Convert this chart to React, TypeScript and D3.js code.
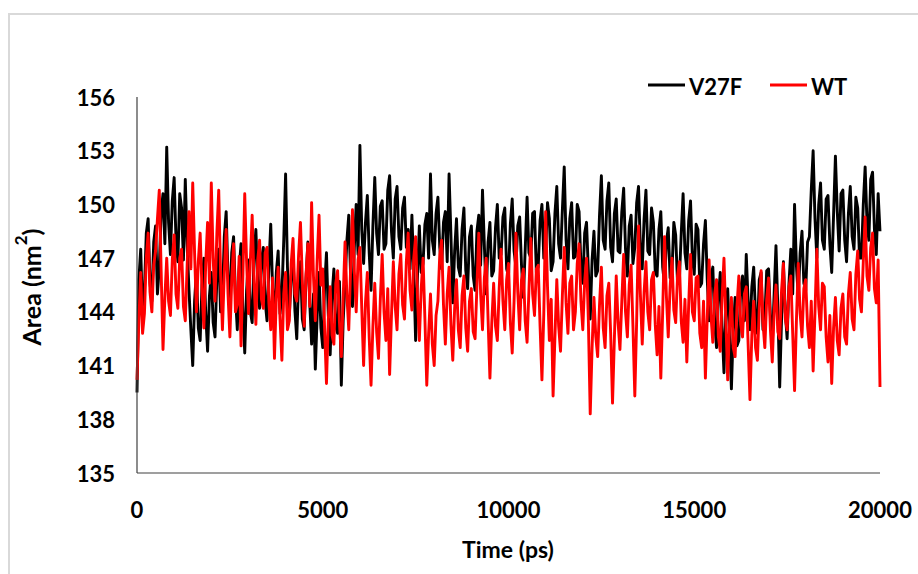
import React from "react";
import * as d3 from "d3";

const TIME_STEP = 50;
const yTicks = [135, 138, 141, 144, 147, 150, 153, 156];
const xTicks = [0, 5000, 10000, 15000, 20000];
const seriesNames = ["V27F", "WT"];
const seriesColors = ["#000000", "#ff0000"];

const v27f = [
  139.5, 145.8, 147.5, 143.9, 145.2, 148.4, 149.2, 145.6, 144.6, 147.9, 148.8, 145.0, 146.5, 149.6, 150.6, 147.8, 153.2, 149.0, 147.2, 150.2,
  151.5, 148.0, 146.8, 150.6, 149.8, 146.9, 151.4, 147.7, 145.2, 143.0, 141.0, 144.6, 146.3, 143.1, 142.4, 145.5, 147.0, 143.9, 141.8, 144.9,
  146.2, 143.4, 142.6, 145.9, 147.5, 144.0, 144.8, 148.2, 149.6, 146.0, 144.5, 147.3, 148.2, 144.9, 143.0, 146.4, 147.8, 144.1, 141.7, 145.2,
  146.9, 144.0, 143.4, 147.1, 148.6, 145.6, 144.2, 146.9, 147.6, 144.6, 143.5, 146.5, 148.9, 145.3, 143.2, 146.2, 147.4, 143.9, 145.0, 148.0,
  151.7, 146.5, 143.8, 146.0, 147.2, 144.1, 142.5, 145.7, 146.8, 143.6, 143.0, 145.9, 147.9, 144.5, 142.2, 145.0, 140.8, 143.8, 146.2, 143.1,
  142.0, 145.4, 147.3, 143.8, 141.6, 144.9, 146.4, 143.2, 142.8, 145.7, 139.9, 143.5, 145.6, 148.0, 149.4, 146.0, 144.3, 147.6, 150.0, 147.2,
  153.3, 148.6, 146.7, 149.0, 150.5, 147.3, 145.2, 148.8, 151.5, 148.4, 147.2, 149.9, 150.2, 147.5, 147.8, 150.8, 151.6, 148.5, 147.0, 150.3,
  151.0, 148.2, 147.5, 149.8, 150.4, 147.6, 148.6, 146.4, 149.4, 146.2, 142.4, 146.0, 148.8, 146.2, 146.7, 148.9, 149.5, 147.0, 151.7, 148.0,
  147.2, 149.5, 150.4, 147.6, 146.4, 149.0, 149.6, 146.8, 151.7, 148.3, 144.5, 147.4, 149.2, 146.5, 146.0, 148.6, 149.8, 146.3, 145.3, 148.2,
  148.8, 146.0, 145.2, 148.5, 149.4, 146.6, 150.8, 147.7, 145.0, 147.9, 149.0, 146.0, 146.3, 148.7, 150.0, 147.0, 147.2, 149.3, 149.8, 146.4,
  146.0, 148.9, 150.3, 147.4, 146.5, 148.8, 149.3, 146.6, 144.8, 147.5, 150.4, 147.3, 147.0, 149.5, 149.6, 146.2, 146.5, 149.1, 150.0, 147.0,
  147.3, 150.1, 149.2, 146.3, 146.8, 149.5, 151.0, 147.8, 147.0, 149.7, 152.1, 148.0, 146.4, 149.2, 150.1, 147.0, 147.1, 150.0, 149.6, 146.6,
  145.6, 148.4, 149.0, 146.3, 143.6, 146.9, 148.5, 146.0, 146.3, 149.4, 151.6, 148.0, 147.5, 150.2, 151.2, 147.6, 146.8, 149.5, 150.3, 147.4,
  147.3, 149.6, 150.9, 147.5, 146.0, 148.8, 149.4, 146.7, 147.6, 150.1, 151.0, 147.6, 146.4, 149.2, 150.8, 147.4, 147.2, 149.8, 149.0, 146.2,
  146.0, 148.6, 149.6, 146.5, 145.5, 147.9, 148.7, 145.9, 146.2, 149.0, 148.3, 145.6, 145.8, 148.4, 150.6, 147.3, 146.4, 149.1, 150.2, 147.0,
  146.1, 148.9, 148.6, 145.4, 145.6, 147.8, 149.1, 145.8, 143.5, 146.0, 146.5, 143.4, 142.0, 144.8, 146.2, 143.1, 140.6, 143.9, 145.3, 142.6,
  139.7, 143.0, 144.8, 142.1, 142.4, 145.3, 146.0, 143.5, 147.2, 144.6, 143.0, 145.4, 146.5, 143.8, 142.8, 145.8, 146.2, 143.0, 143.6, 146.3,
  146.4, 143.8, 142.1, 145.0, 147.7, 144.2, 139.8, 143.6, 146.8, 144.0, 142.5, 145.6, 147.5, 145.0, 150.0, 146.6, 144.8, 147.3, 148.5, 145.6,
  145.2, 147.9, 148.2, 150.8, 153.0, 149.2, 147.0, 150.0, 151.2, 148.0, 147.5, 150.3, 150.5, 147.8, 146.2, 149.4, 152.7, 149.6, 147.4, 150.6,
  150.8, 148.0, 146.8, 149.5, 151.0, 148.2, 147.5, 150.4, 149.8, 147.0, 147.0, 150.0, 152.1, 149.0, 148.0, 151.4, 151.8, 148.6, 147.2, 150.6,
  148.5,
];

const wt = [
  140.2, 143.5, 146.2, 142.8, 143.9, 147.0, 148.4, 145.1, 144.0, 146.6, 147.4, 149.2, 150.8, 146.3, 141.9, 144.8, 147.0, 144.6, 143.8, 146.9,
  148.3, 145.0, 144.2, 147.0, 147.5, 144.3, 143.5, 146.6, 149.6, 146.4, 151.2, 147.3, 144.0, 146.8, 148.4, 145.2, 143.1, 146.7, 149.0, 145.6,
  151.2, 147.0, 144.6, 148.4, 150.8, 146.1, 143.0, 146.2, 148.6, 145.0, 142.6, 145.8, 147.8, 144.0, 144.4, 147.1, 142.1, 146.0, 150.6, 146.8,
  143.9, 146.8, 149.4, 145.7, 143.3, 146.9, 148.0, 144.7, 144.2, 147.3, 147.6, 144.5, 143.0, 145.9, 141.4, 144.8, 146.5, 143.6, 141.3, 145.0,
  146.2, 143.0, 143.5, 146.7, 148.1, 145.0, 144.6, 147.2, 149.0, 145.8, 143.2, 146.1, 147.8, 144.3, 150.1, 146.0, 143.5, 146.9, 149.4, 145.5,
  146.4, 143.1, 140.0, 143.6, 145.4, 142.7, 142.2, 145.6, 146.3, 143.4, 141.5, 144.8, 147.9, 144.9, 143.0, 146.4, 149.7, 146.3, 144.0, 146.9,
  147.6, 144.2, 141.0, 144.5, 146.2, 142.6, 139.9, 143.2, 145.6, 142.9, 141.4, 144.7, 147.2, 144.0, 142.4, 145.3, 140.5, 143.8, 146.8, 144.3,
  143.0, 146.1, 147.2, 144.4, 143.6, 146.8, 148.4, 145.2, 144.1, 147.0, 148.2, 144.8, 142.4, 145.3, 147.0, 143.6, 139.9, 142.8, 145.0, 142.2,
  141.0, 143.8, 144.6, 147.2, 148.0, 144.4, 142.2, 145.0, 146.5, 143.3, 141.3, 144.2, 145.8, 143.0, 142.0, 144.9, 146.0, 143.1, 141.8, 144.6,
  145.3, 142.9, 142.5, 145.4, 148.4, 145.0, 143.0, 145.9, 147.0, 143.6, 140.3, 143.4, 145.6, 143.2, 142.4, 145.3, 147.5, 144.6, 143.0, 145.8,
  146.7, 143.4, 141.7, 144.6, 148.4, 145.1, 143.0, 145.8, 146.4, 143.5, 142.3, 145.2, 148.1, 145.0, 143.8, 146.4, 146.6, 143.2, 140.2, 143.9,
  149.6, 145.4, 142.4, 144.7, 139.3, 142.6, 145.8, 143.2, 141.8, 144.9, 147.6, 144.5, 142.8, 145.6, 146.0, 143.0, 144.0, 146.7, 147.8, 144.6,
  143.0, 145.7, 147.0, 143.5, 138.3, 142.0, 144.8, 142.6, 141.5, 144.4, 146.5, 143.1, 142.0, 144.9, 145.6, 142.8, 138.9, 142.5, 146.0, 143.4,
  141.9, 144.6, 147.2, 144.0, 142.6, 145.5, 146.6, 143.2, 139.3, 143.5, 148.8, 145.0, 142.2, 145.1, 146.8, 144.0, 143.0, 145.8, 146.2, 143.3,
  141.6, 144.3, 140.3, 144.0, 148.2, 144.9, 142.6, 145.4, 147.0, 144.1, 143.4, 146.0, 146.8, 143.5, 142.3, 144.7, 141.2, 144.4, 147.2, 144.0,
  143.5, 145.9, 146.0, 142.8, 142.0, 144.6, 140.3, 143.7, 146.9, 143.8, 142.3, 145.0, 145.8, 142.6, 141.8, 144.8, 147.0, 143.6, 140.2, 143.3,
  144.8, 142.0, 141.5, 144.3, 146.0, 143.3, 142.6, 145.0, 145.4, 142.2, 139.1, 142.7, 144.6, 142.0, 141.3, 144.2, 146.3, 143.4, 142.0, 144.7,
  145.9, 143.0, 141.2, 144.0, 145.5, 142.9, 142.5, 145.2, 146.7, 143.6, 143.0, 145.4, 146.0, 142.8, 139.6, 143.5, 146.7, 143.9, 142.6, 145.3,
  145.8, 143.2, 142.0, 144.6, 140.7, 144.0, 147.5, 144.3, 143.0, 145.6, 145.4, 142.6, 141.2, 143.8, 140.0, 143.1, 144.8, 142.4, 141.6, 144.2,
  145.0, 142.6, 142.2, 145.0, 146.2, 143.6, 143.0, 146.1, 147.4, 144.7, 144.0, 146.8, 149.3, 146.0, 145.2, 147.6, 148.4, 145.3, 144.5, 146.9,
  139.8,
];

const W = 918;
const H = 574;
const margin = { left: 137, right: 38, top: 97, bottom: 101 };

export default function App() {
  const x = d3.scaleLinear().domain([0, 20000]).range([margin.left, W - margin.right]);
  const y = d3.scaleLinear().domain([135, 156]).range([H - margin.bottom, margin.top]);
  const seriesData = [v27f, wt];
  const line = d3
    .line<number>()
    .x((_, i) => x(i * TIME_STEP))
    .y((d) => y(d));
  const font = "Lato, 'Open Sans', sans-serif";
  const legendItems = [
    { x0: 648, x1: 685, tx: 689 },
    { x0: 770, x1: 807, tx: 811 },
  ];
  return (
    <svg
      width={W}
      height={H}
      style={{ position: "fixed", left: 0, top: 0, background: "#fff" }}
    >
      <rect x={0} y={0} width={W} height={H} fill="#fff" />
      <line x1={8} y1={14} x2={W} y2={14} stroke="#d9d9d9" strokeWidth={2} />
      <line x1={9} y1={13} x2={9} y2={H} stroke="#d9d9d9" strokeWidth={2} />

      {seriesData.map((d, k) => (
        <path
          key={k}
          d={line(d) || ""}
          fill="none"
          stroke={seriesColors[k]}
          strokeWidth={2.9}
          strokeLinejoin="round"
        />
      ))}

      <line
        x1={x(0)}
        y1={y(156)}
        x2={x(0)}
        y2={y(135)}
        stroke="#404040"
        strokeWidth={1.2}
      />
      <line
        x1={x(0)}
        y1={y(135)}
        x2={x(20000)}
        y2={y(135)}
        stroke="#404040"
        strokeWidth={1.2}
      />

      {yTicks.map((t) => (
        <text
          key={t}
          x={115}
          y={y(t)}
          textAnchor="end"
          dominantBaseline="central"
          fontFamily={font}
          fontWeight={700}
          fontSize={22}
          fill="#000"
        >
          {t}
        </text>
      ))}
      {xTicks.map((t) => (
        <text
          key={t}
          x={x(t)}
          y={509}
          textAnchor="middle"
          dominantBaseline="central"
          fontFamily={font}
          fontWeight={700}
          fontSize={22}
          fill="#000"
        >
          {t}
        </text>
      ))}

      <text
        x={508}
        y={549}
        textAnchor="middle"
        dominantBaseline="central"
        fontFamily={font}
        fontWeight={700}
        fontSize={23}
        fill="#000"
      >
        Time (ps)
      </text>
      <text
        transform={`translate(31,${287}) rotate(-90)`}
        textAnchor="middle"
        dominantBaseline="central"
        fontFamily={font}
        fontWeight={700}
        fontSize={25}
        fill="#000"
      >
        Area (nm
        <tspan baselineShift="super" fontSize={17}>
          2
        </tspan>
        )
      </text>

      {seriesNames.map((name, k) => (
        <g key={name}>
          <line
            x1={legendItems[k].x0}
            y1={85}
            x2={legendItems[k].x1}
            y2={85}
            stroke={seriesColors[k]}
            strokeWidth={2.9}
          />
          <text
            x={legendItems[k].tx}
            y={86}
            dominantBaseline="central"
            fontFamily={font}
            fontWeight={700}
            fontSize={22}
            fill="#000"
          >
            {name}
          </text>
        </g>
      ))}
    </svg>
  );
}
